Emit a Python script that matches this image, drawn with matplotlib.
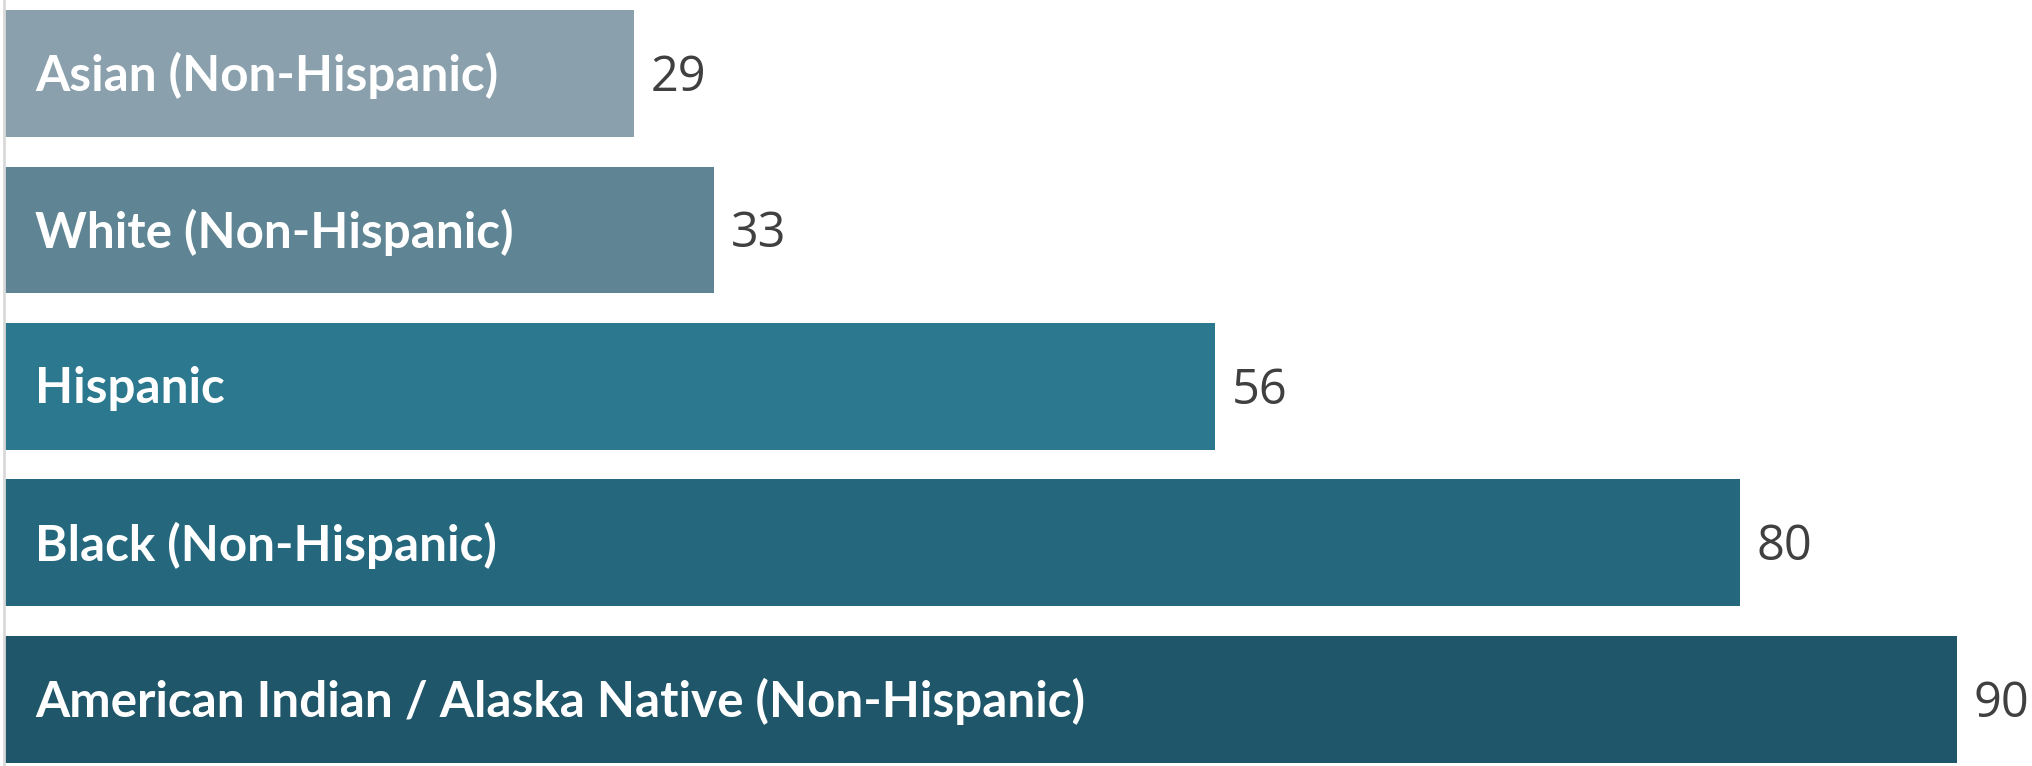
import matplotlib
matplotlib.use('Agg')
import matplotlib.pyplot as plt

# data (bar lengths), labels are rounded values
groups = ['Asian (Non-Hispanic)', 'White (Non-Hispanic)', 'Hispanic',
          'Black (Non-Hispanic)', 'American Indian / Alaska Native (Non-Hispanic)']
values = [29.0, 32.7, 55.8, 80.0, 90.0]
colors = ['#8AA1AD', '#5F8594', '#2B788F', '#25687E', '#1F5669']

fig = plt.figure(figsize=(20.32, 7.66), dpi=100)
ax = fig.add_axes([5/2032, 0, 1 - 5/2032, 1])

pos = range(len(groups))
ax.barh(pos, values, height=0.81, color=colors)

for p, name, v in zip(pos, groups, values):
    ax.annotate(name, xy=(0, p), xytext=(21.5, -1.5), textcoords='offset points',
                ha='left', va='center', color='white', fontsize=35.6,
                fontweight='bold', family='Lato')
    ax.annotate('{:.0f}'.format(v), xy=(v, p), xytext=(12, -3.5), textcoords='offset points',
                ha='left', va='center', color='#404040', fontsize=35,
                family='Open Sans')

ax.set_xlim(0, 93.46)
ax.set_ylim(4.426, -0.469)
ax.set_xticks([])
ax.set_yticks([])
for s in ['top', 'right', 'bottom']:
    ax.spines[s].set_visible(False)
ax.spines['left'].set_color('#D9D9D9')
ax.spines['left'].set_linewidth(2)
ax.spines['left'].set_position(('outward', 1))

fig.savefig('out.png', dpi=100)
